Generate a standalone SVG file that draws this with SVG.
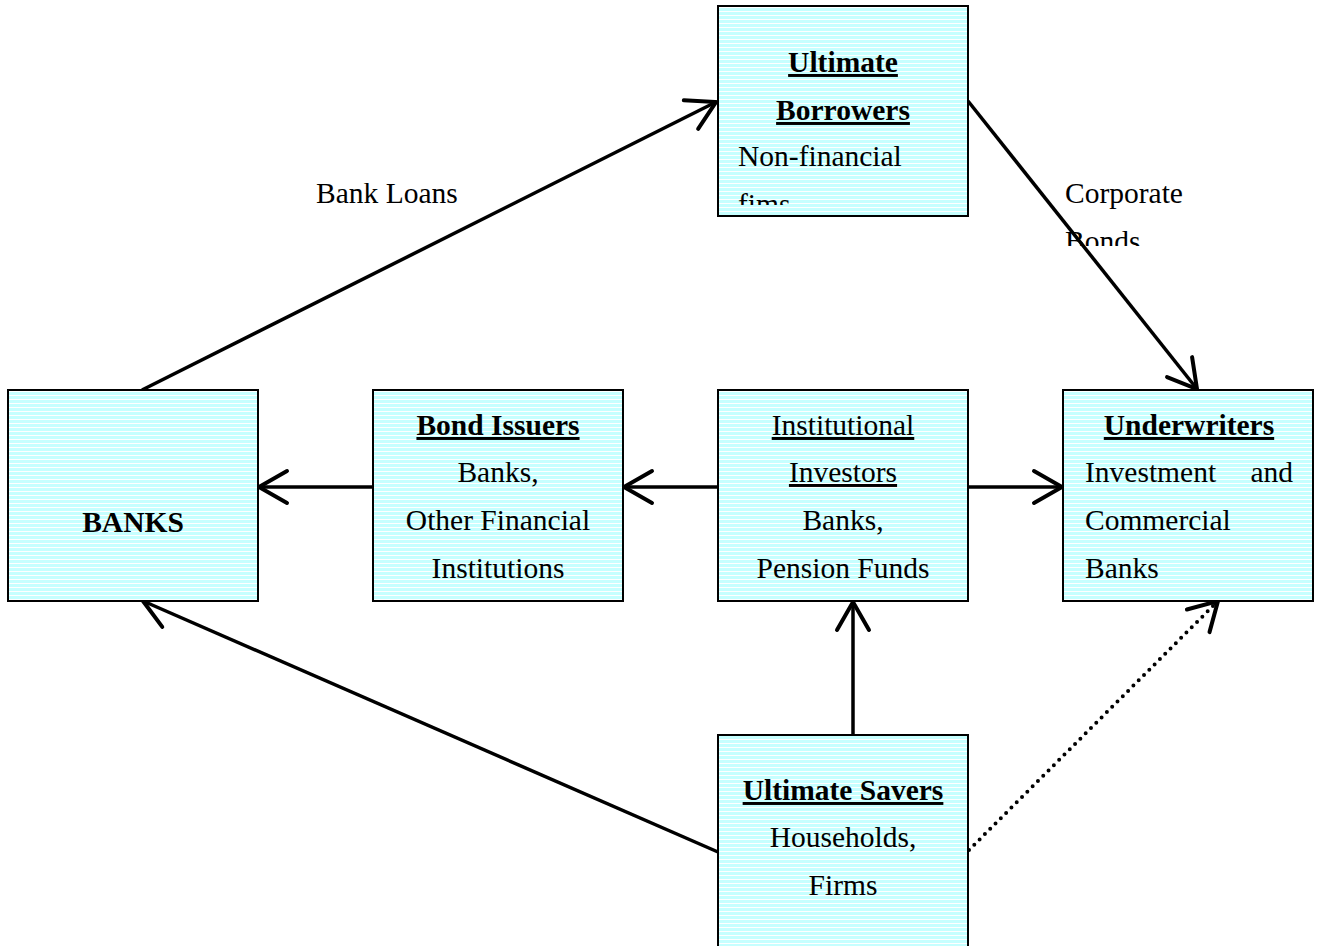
<svg xmlns="http://www.w3.org/2000/svg" width="1318" height="946" viewBox="0 0 1318 946">
<style>
text{font-family:"Liberation Serif","Times New Roman",serif;font-size:29.5px;fill:#000}
.b{font-weight:bold}
.u{text-decoration:underline}
.c{text-anchor:middle}
.box{fill:url(#hatch);stroke:#000;stroke-width:2}
.ln{stroke:#000;stroke-width:3.5;fill:none}
.dot{stroke:#000;stroke-width:4;fill:none;stroke-dasharray:0 7.5;stroke-linecap:round}
</style>
<defs>
<pattern id="hatch" patternUnits="userSpaceOnUse" width="8" height="4">
<rect width="8" height="4" fill="#c6ffff"/>
<rect y="3" width="8" height="1" fill="#ffffff"/>
</pattern>
<marker id="arr" markerUnits="userSpaceOnUse" viewBox="-34 -20 36 40" refX="0" refY="0" markerWidth="36" markerHeight="40" orient="auto" overflow="visible">
<path d="M-28,-16 L0,0 L-28,16" fill="none" stroke="#000" stroke-width="4" stroke-linecap="round" stroke-linejoin="miter"/>
</marker>
<clipPath id="clipUB"><rect x="718" y="6" width="250" height="199"/></clipPath>
<clipPath id="clipCB"><rect x="1050" y="150" width="200" height="96"/></clipPath>
</defs>

<g id="connectors">
<line class="ln" x1="142" y1="390" x2="716" y2="102" marker-end="url(#arr)"/>
<line class="ln" x1="968" y1="101" x2="1197" y2="389" marker-end="url(#arr)"/>
<line class="ln" x1="373" y1="487" x2="259" y2="487" marker-end="url(#arr)"/>
<line class="ln" x1="718" y1="487" x2="624" y2="487" marker-end="url(#arr)"/>
<line class="ln" x1="968" y1="487" x2="1062" y2="487" marker-end="url(#arr)"/>
<line class="ln" x1="853" y1="735" x2="853" y2="602" marker-end="url(#arr)"/>
<line class="ln" x1="718" y1="852" x2="143" y2="601" marker-end="url(#arr)"/>
<line class="dot" x1="969" y1="850" x2="1214" y2="605"/>
<line class="ln" x1="1214" y1="605" x2="1218" y2="601" marker-end="url(#arr)"/>
</g>

<g id="label-bank-loans"><text x="316" y="203">Bank Loans</text></g>
<g id="label-corporate-bonds" clip-path="url(#clipCB)">
<text x="1065" y="203">Corporate</text>
<text x="1065" y="251">Bonds</text>
</g>

<g id="ultimate-borrowers">
<rect class="box" x="718" y="6" width="250" height="210"/>
<text class="b u c" x="843" y="72">Ultimate</text>
<text class="b u c" x="843" y="120">Borrowers</text>
<g clip-path="url(#clipUB)">
<text x="738" y="166">Non-financial</text>
<text x="738" y="214">fims</text>
</g>
</g>

<g id="banks">
<rect class="box" x="8" y="390" width="250" height="211"/>
<text class="b c" x="133" y="532">BANKS</text>
</g>

<g id="bond-issuers">
<rect class="box" x="373" y="390" width="250" height="211"/>
<text class="b u c" x="498" y="435">Bond Issuers</text>
<text class="c" x="498" y="482">Banks,</text>
<text class="c" x="498" y="530">Other Financial</text>
<text class="c" x="498" y="578">Institutions</text>
</g>

<g id="institutional-investors">
<rect class="box" x="718" y="390" width="250" height="211"/>
<text class="u c" x="843" y="435">Institutional</text>
<text class="u c" x="843" y="482">Investors</text>
<text class="c" x="843" y="530">Banks,</text>
<text class="c" x="843" y="578">Pension Funds</text>
</g>

<g id="underwriters">
<rect class="box" x="1063" y="390" width="250" height="211"/>
<text class="b u c" x="1189" y="435">Underwriters</text>
<text x="1085" y="482">Investment</text>
<text x="1293" y="482" text-anchor="end">and</text>
<text x="1085" y="530">Commercial</text>
<text x="1085" y="578">Banks</text>
</g>

<g id="ultimate-savers">
<rect class="box" x="718" y="735" width="250" height="214"/>
<text class="b u c" x="843" y="800">Ultimate Savers</text>
<text class="c" x="843" y="847">Households,</text>
<text class="c" x="843" y="895">Firms</text>
</g>
</svg>
